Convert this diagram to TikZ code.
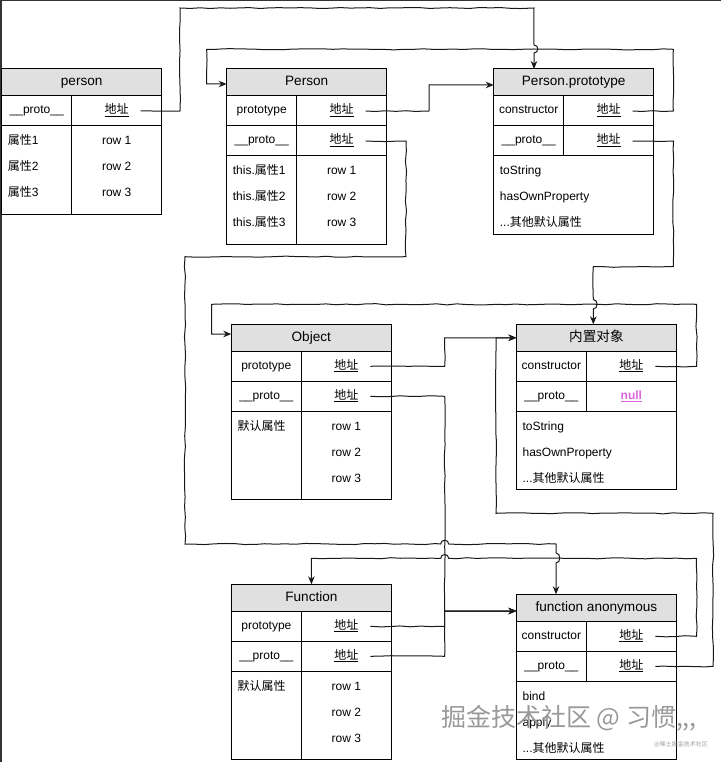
\documentclass[tikz,border=0pt]{standalone}
\usepackage{fontspec}
\setmainfont{Liberation Sans}
\newfontfamily\zhfont{Noto Sans CJK SC}
\newcommand{\zh}[1]{{\zhfont #1}}
\newcommand{\addr}{\underline{\zh{地址}}}
\usetikzlibrary{arrows.meta, decorations.pathmorphing}
\definecolor{headfill}{RGB}{224,224,224}
\definecolor{nullpink}{RGB}{221,102,224}
\tikzstyle{head} = [draw, fill=headfill, line width=1pt, outer sep=0pt, inner sep=0pt, minimum width=160pt, minimum height=27pt, text height=10pt, text depth=3pt, font=\fontsize{13.6pt}{16pt}\selectfont]
\tikzstyle{slot} = [draw, line width=1pt, outer sep=0pt, inner sep=0pt, anchor=north west, minimum width=70pt, minimum height=30pt, text height=9pt, text depth=3pt, font=\fontsize{12pt}{14pt}\selectfont]
\tikzstyle{ptr} = [slot, minimum width=90pt]
\tikzstyle{lbody} = [slot, minimum height=88pt]
\tikzstyle{rbody} = [slot, minimum width=90pt, minimum height=88pt]
\tikzstyle{wbody} = [slot, minimum width=160pt, minimum height=78pt]
\tikzstyle{props} = [anchor=north west, inner xsep=6pt, inner ysep=0.3pt, align=left, font=\fontsize{12pt}{26pt}\selectfont]
\tikzstyle{cprops} = [props, anchor=north, inner xsep=0pt, align=center]
\tikzstyle{ptrline} = [line width=1pt, black!90, -{Stealth[length=8pt, width=6.5pt]}, decoration={random steps, segment length=10pt, amplitude=0.6pt}]

\begin{document}
\begin{tikzpicture}[x=1pt, y=-1pt]
	\useasboundingbox (0,0) rectangle (721,762);
	\pgfmathsetseed{11}
	\draw[black!80, line width=1.5pt] (721,0.75) -- (0.75,0.75) -- (0.75,762);

	% person
	\node[head] (insth) at (81.7,82.5) {person};
	\node[slot] (instk) at (insth.south west) {\_\_proto\_\_};
	\node[ptr] (instv) at (instk.north east) {\addr};
	\node[lbody] (instl) at (instk.south west) {};
	\node[rbody] (instr) at (instl.north east) {};
	\node[props] (instlt) at (instl.north west) {\strut\zh{属性}1\\\zh{属性}2\\\zh{属性}3};
	\node[cprops] (instrt) at (instr.north) {\strut row 1\\row 2\\row 3};

	% Person
	\node[head] (ctorh) at (306.7,82.5) {Person};
	\node[slot] (ctork1) at (ctorh.south west) {prototype};
	\node[ptr] (ctorv1) at (ctork1.north east) {\addr};
	\node[slot] (ctork2) at (ctork1.south west) {\_\_proto\_\_};
	\node[ptr] (ctorv2) at (ctork2.north east) {\addr};
	\node[lbody] (ctorl) at (ctork2.south west) {};
	\node[rbody] (ctorr) at (ctorl.north east) {};
	\node[props] (ctorlt) at (ctorl.north west) {\strut this.\zh{属性}1\\this.\zh{属性}2\\this.\zh{属性}3};
	\node[cprops] (ctorrt) at (ctorr.north) {\strut row 1\\row 2\\row 3};

	% Person.prototype
	\node[head] (protoh) at (573.7,82.5) {Person.prototype};
	\node[slot] (protok1) at (protoh.south west) {constructor};
	\node[ptr] (protov1) at (protok1.north east) {\addr};
	\node[slot] (protok2) at (protok1.south west) {\_\_proto\_\_};
	\node[ptr] (protov2) at (protok2.north east) {\addr};
	\node[wbody] (protob) at (protok2.south west) {};
	\node[props] (protobt) at (protob.north west) {\strut toString\\hasOwnProperty\\...\zh{其他默认属性}};

	% Object
	\node[head] (objh) at (311.3,337.8) {Object};
	\node[slot] (objk1) at (objh.south west) {prototype};
	\node[ptr] (objv1) at (objk1.north east) {\addr};
	\node[slot] (objk2) at (objk1.south west) {\_\_proto\_\_};
	\node[ptr] (objv2) at (objk2.north east) {\addr};
	\node[lbody] (objl) at (objk2.south west) {};
	\node[rbody] (objr) at (objl.north east) {};
	\node[props] (objlt) at (objl.north west) {\strut\zh{默认属性}};
	\node[cprops] (objrt) at (objr.north) {\strut row 1\\row 2\\row 3};

	% 内置对象
	\node[head] (baseh) at (596.4,337.8) {\zh{内置对象}};
	\node[slot] (basek1) at (baseh.south west) {constructor};
	\node[ptr] (basev1) at (basek1.north east) {\addr};
	\node[slot] (basek2) at (basek1.south west) {\_\_proto\_\_};
	\node[ptr] (basev2) at (basek2.north east) {\textcolor{nullpink}{\textbf{\underline{null}}}};
	\node[wbody] (baseb) at (basek2.south west) {};
	\node[props] (basebt) at (baseb.north west) {\strut toString\\hasOwnProperty\\...\zh{其他默认属性}};

	% Function
	\node[head] (funh) at (311.4,597.8) {Function};
	\node[slot] (funk1) at (funh.south west) {prototype};
	\node[ptr] (funv1) at (funk1.north east) {\addr};
	\node[slot] (funk2) at (funk1.south west) {\_\_proto\_\_};
	\node[ptr] (funv2) at (funk2.north east) {\addr};
	\node[lbody] (funl) at (funk2.south west) {};
	\node[rbody] (funr) at (funl.north east) {};
	\node[props] (funlt) at (funl.north west) {\strut\zh{默认属性}};
	\node[cprops] (funrt) at (funr.north) {\strut row 1\\row 2\\row 3};

	% function anonymous
	\node[head] (anonh) at (596.4,607.8) {function anonymous};
	\node[slot] (anonk1) at (anonh.south west) {constructor};
	\node[ptr] (anonv1) at (anonk1.north east) {\addr};
	\node[slot] (anonk2) at (anonk1.south west) {\_\_proto\_\_};
	\node[ptr] (anonv2) at (anonk2.north east) {\addr};
	\node[wbody] (anonb) at (anonk2.south west) {};
	\node[props] (anonbt) at (anonb.north west) {\strut bind\\apply\\...\zh{其他默认属性}};

	% pointers
	\draw[ptrline] ([xshift=-21pt]instv.east) decorate{-| (180,8) -| (534,45)} .. controls (539,45) and (539,53) .. (534,53) -- ([xshift=-39.7pt]protoh.north);
	\draw[ptrline] ([xshift=-21pt]ctorv1.east) decorate{-| (429,96)} |- ([yshift=-2.5pt]protoh.west);
	\draw[ptrline] ([xshift=-21pt]ctorv2.east) decorate{-| (406,256.7) -| (185,544) -- (440.7,544)} .. controls (440.7,539) and (448.7,539) .. (448.7,544) decorate{-| (556,553)} .. controls (561,553) and (561,563) .. (556,563) -- ([xshift=-40.4pt]anonh.north);
	\draw[ptrline] ([xshift=-21pt]protov1.east) decorate{-| (673.3,49.3) -| (206.7,70)} |- ([yshift=-1.5pt]ctorh.west);
	\draw[ptrline] ([xshift=-21pt]protov2.east) decorate{-| (673.3,266.7) -| (593.3,299.5)} .. controls (598.3,299.5) and (598.3,309) .. (593.3,309) -- ([xshift=-3.1pt]baseh.north);
	\draw[ptrline] ([xshift=-21pt]objv1.east) decorate{-| (444.7,350)} |- (baseh.west);
	\draw[ptrline] ([xshift=-21pt]basev1.east) decorate{-| (696.5,304.3) -| (211.7,318)} |- ([yshift=3.8pt]objh.west);
	\draw[ptrline] ([xshift=-21pt]objv2.east) decorate{-| (444.7,598)} |- ([yshift=-3.2pt]anonh.west);
	\draw[ptrline] ([xshift=-21pt]funv1.east) decorate{-| (444.7,618)} |- ([yshift=-3.2pt]anonh.west);
	\draw[ptrline] ([xshift=-21pt]funv2.east) decorate{-| (444.7,622)} |- ([yshift=-3.2pt]anonh.west);
	\draw[ptrline] ([xshift=-21pt]anonv1.east) decorate{-| (696.5,558.3) -- (448.7,558.3)} .. controls (448.7,553.3) and (440.7,553.3) .. (440.7,558.3) decorate{-| (311.4,572)} -- (funh.north);
	\draw[ptrline] ([xshift=-21pt]anonv2.east) decorate{-| (713,513.3) -| (496,350)} |- (baseh.west);

	% watermark
	\node[text=gray!80, font=\zhfont\fontsize{25pt}{25pt}\selectfont] (wm) at (569,718) {掘金技术社区 @ 习惯,,,};
	\node[text=gray!75, font=\zhfont\fontsize{6pt}{7pt}\selectfont] (wmsub) at (681,744) {@稀土掘金技术社区};
\end{tikzpicture}
\end{document}
